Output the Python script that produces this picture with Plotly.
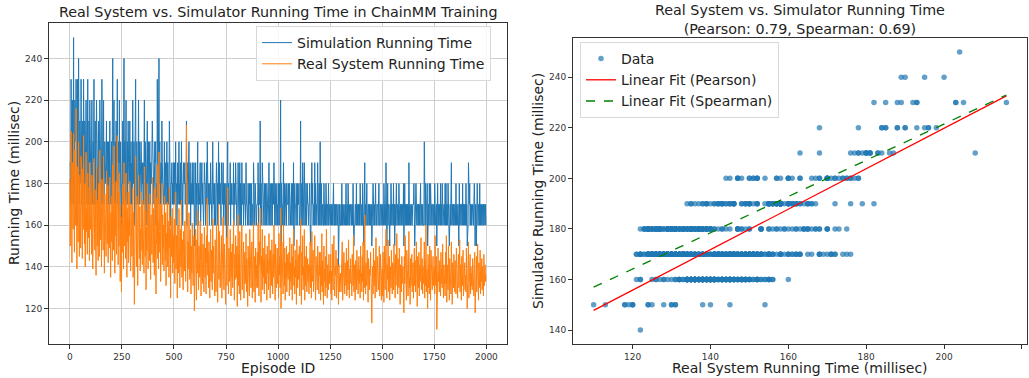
import plotly.graph_objects as go

# ---------------- data (read/estimated from the reference) ----------------
episode_step = 2
real_time = [
    182, 150, 171, 205, 163, 142, 190, 175, 158, 204, 168, 147, 196, 181, 160, 216, 172, 139, 188, 165, 152, 200, 177, 145, 184,
    170, 149, 193, 161, 176, 144, 187, 158, 203, 166, 151, 180, 140, 172, 195, 157, 168, 146, 185, 162, 154, 178, 143, 190, 165,
    158, 175, 146, 184, 161, 139, 170, 152, 192, 163, 148, 177, 155, 136, 188, 167, 150, 172, 143, 180, 159, 145, 196, 164, 153,
    171, 140, 182, 157, 165, 148, 193, 160, 137, 175, 154, 168, 145, 186, 162, 151, 179, 142, 160, 170, 149, 183, 158, 135, 166,
    152, 174, 143, 189, 160, 148, 198, 163, 137, 171, 155, 181, 146, 167, 203, 158, 141, 176, 150, 185, 162, 133, 170, 153, 128,
    164, 147, 179, 156, 139, 190, 161, 150, 172, 144, 185, 158, 135, 168, 152, 176, 142, 163, 155, 181, 147, 138, 170, 159, 145,
    160, 178, 135, 166, 151, 122, 170, 146, 193, 157, 140, 174, 149, 131, 163, 184, 155, 144, 169, 138, 158, 148, 176, 152, 141,
    172, 150, 163, 137, 188, 156, 145, 167, 129, 159, 148, 180, 153, 139, 170, 161, 143, 175, 151, 134, 165, 157, 146, 183, 154,
    142, 168, 155, 136, 178, 149, 160, 127, 173, 151, 189, 144, 162, 139, 195, 157, 147, 170, 133, 158, 152, 180, 141, 165, 149,
    160, 138, 174, 150, 143, 166, 131, 156, 147, 171, 140, 162, 153, 135, 178, 149, 158, 125, 164, 145, 151, 168, 137, 155, 142,
    150, 163, 132, 145, 176, 139, 155, 148, 125, 160, 142, 137, 168, 151, 130, 146, 158, 140, 172, 135, 153, 144, 129, 157, 147,
    138, 162, 150, 133, 145, 208, 141, 156, 128, 152, 139, 166, 146, 134, 158, 143, 127, 150, 137, 161, 144, 131, 148, 155, 119,
    146, 131, 158, 140, 124, 153, 137, 167, 145, 129, 150, 141, 135, 162, 148, 126, 143, 156, 138, 132, 151, 144, 128, 159, 140,
    135, 149, 127, 155, 142, 173, 136, 147, 130, 152, 139, 125, 144, 158, 133, 148, 141, 129, 163, 137, 150, 134, 145, 126, 153,
    144, 128, 160, 137, 152, 123, 147, 170, 134, 157, 141, 130, 148, 138, 155, 125, 146, 133, 164, 140, 129, 151, 136, 143, 122,
    139, 154, 131, 145, 178, 136, 127, 149, 142, 133, 158, 140, 126, 147, 135, 151, 130, 143, 162, 138, 124, 146, 134, 155, 141,
    135, 150, 121, 142, 165, 131, 146, 127, 157, 138, 124, 149, 136, 160, 129, 143, 133, 152, 125, 140, 147, 132, 138, 156, 128,
    144, 136, 121, 150, 133, 141, 126, 158, 137, 147, 130, 143, 152, 125, 139, 134, 161, 128, 145, 138, 123, 149, 135, 141, 130,
    147, 130, 161, 138, 126, 152, 141, 168, 134, 123, 145, 137, 158, 129, 149, 135, 143, 127, 155, 139, 132, 146, 136, 124, 150,
    137, 143, 129, 156, 134, 140, 125, 148, 138, 131, 153, 142, 127, 146, 135, 160, 133, 139, 124, 151, 144, 130, 137, 149, 132,
    141, 125, 156, 136, 145, 130, 168, 120, 139, 152, 133, 144, 127, 160, 137, 131, 149, 124, 142, 135, 150, 128, 146, 138, 134,
    139, 147, 126, 154, 133, 142, 129, 137, 151, 124, 145, 136, 158, 131, 140, 127, 148, 135, 143, 122, 153, 138, 130, 146, 134,
    138, 150, 126, 143, 163, 132, 122, 147, 136, 155, 129, 140, 134, 158, 124, 145, 131, 139, 150, 128, 137, 144, 133, 141, 127,
    146, 135, 152, 130, 140, 125, 157, 137, 133, 148, 128, 143, 138, 155, 131, 124, 145, 136, 141, 129, 150, 134, 139, 127, 147,
    136, 147, 124, 140, 131, 156, 128, 143, 135, 122, 150, 133, 139, 126, 145, 130, 158, 137, 125, 141, 134, 129, 146, 132, 138,
    133, 146, 127, 138, 124, 151, 135, 129, 142, 155, 131, 126, 140, 136, 148, 125, 134, 144, 130, 138, 122, 141, 128, 136, 132,
    137, 128, 145, 133, 152, 124, 140, 130, 147, 135, 127, 142, 138, 131, 149, 126, 136, 143, 129, 153, 134, 125, 139, 132, 144,
    130, 138, 126, 146, 135, 131, 155, 128, 141, 134, 124, 143, 137, 129, 148, 133, 140, 127, 136, 145, 132, 139, 125, 150, 135,
    137, 128, 145, 133, 152, 124, 140, 130, 165, 135, 127, 142, 131, 138, 148, 126, 123, 144, 134, 129, 139, 136, 147, 130, 141,
    113, 134, 140, 127, 149, 136, 131, 143, 125, 138, 154, 132, 128, 145, 135, 141, 129, 137, 150, 126, 133, 146, 139, 124, 136,
    139, 126, 147, 132, 123, 150, 136, 129, 143, 158, 131, 125, 141, 134, 153, 128, 137, 145, 124, 133, 140, 130, 148, 135, 127,
    142, 136, 129, 151, 134, 138, 125, 146, 131, 140, 156, 133, 127, 144, 137, 130, 149, 135, 122, 141, 136, 128, 145, 132, 139,
    140, 127, 118, 145, 132, 155, 129, 136, 124, 148, 133, 141, 126, 138, 157, 130, 135, 122, 144, 131, 139, 146, 128, 134, 142,
    125, 137, 149, 131, 143, 128, 136, 152, 134, 121, 145, 139, 130, 147, 126, 141, 133, 138, 154, 129, 135, 144, 127, 140, 132,
    137, 152, 125, 143, 131, 160, 128, 139, 134, 120, 146, 130, 141, 127, 150, 136, 124, 148, 133, 142, 129, 138, 145, 131, 135,
    140, 127, 155, 134, 131, 145, 110, 136, 124, 149, 133, 138, 128, 143, 135, 126, 147, 132, 139, 130, 151, 137, 125, 141, 134,
    138, 126, 147, 132, 155, 123, 141, 135, 129, 150, 137, 124, 144, 131, 139, 127, 152, 134, 122, 142, 136, 130, 146, 133, 128,
    143, 135, 127, 149, 132, 140, 125, 138, 146, 130, 136, 153, 128, 141, 134, 124, 145, 137, 131, 148, 126, 139, 133, 142, 129,
    136, 128, 149, 133, 120, 143, 130, 152, 125, 139, 134, 146, 127, 140, 131, 137, 129, 144, 133, 138, 126, 141, 147, 118, 135,
    132, 145, 128, 139, 151, 134, 124, 142, 136, 130, 148, 127, 138, 133, 144, 129, 140, 135, 126, 146, 131, 137, 141, 133, 136,
]
sim_time = [
    190, 190, 170, 230, 200, 170, 220, 180, 190, 250, 170, 180, 220, 210, 200, 230, 190, 160, 230, 180, 200, 240, 200, 170, 210,
    180, 190, 230, 200, 170, 180, 210, 190, 230, 170, 170, 210, 180, 200, 220, 200, 170, 190, 230, 180, 170, 210, 190, 220, 190,
    200, 170, 190, 220, 170, 180, 200, 190, 230, 170, 180, 210, 170, 190, 220, 180, 200, 170, 190, 210, 180, 190, 220, 180, 180,
    170, 180, 230, 200, 170, 190, 220, 170, 180, 200, 190, 180, 190, 210, 170, 200, 190, 170, 200, 180, 180, 210, 170, 190, 190,
    200, 170, 190, 240, 180, 190, 220, 170, 180, 200, 170, 210, 190, 180, 230, 170, 180, 200, 190, 220, 170, 180, 200, 180, 160,
    180, 180, 210, 170, 190, 240, 180, 200, 170, 190, 220, 170, 180, 200, 170, 210, 190, 180, 180, 210, 170, 190, 200, 170, 190,
    170, 220, 190, 180, 200, 160, 180, 190, 230, 170, 180, 200, 170, 180, 190, 220, 170, 200, 170, 190, 180, 200, 190, 170, 190,
    180, 190, 170, 190, 220, 170, 200, 190, 160, 180, 180, 210, 170, 190, 200, 170, 180, 200, 170, 190, 180, 180, 190, 210, 200,
    190, 180, 170, 180, 200, 190, 200, 160, 180, 170, 230, 190, 170, 190, 240, 180, 200, 170, 180, 190, 170, 210, 190, 180, 170,
    170, 180, 200, 170, 190, 190, 170, 180, 200, 170, 190, 180, 170, 180, 210, 190, 190, 160, 180, 180, 190, 170, 180, 170, 190,
    170, 190, 180, 170, 200, 180, 180, 160, 170, 190, 170, 180, 200, 170, 180, 170, 190, 170, 200, 180, 180, 160, 180, 190, 180,
    180, 190, 170, 180, 170, 210, 160, 190, 180, 170, 180, 200, 170, 180, 190, 160, 180, 170, 180, 190, 170, 180, 170, 190, 150,
    170, 170, 190, 160, 180, 170, 180, 200, 160, 180, 170, 170, 180, 190, 160, 170, 170, 190, 170, 180, 170, 160, 170, 190, 180,
    180, 160, 170, 190, 170, 200, 180, 170, 180, 170, 160, 180, 170, 190, 180, 170, 160, 170, 200, 180, 170, 180, 160, 180, 170,
    160, 170, 190, 180, 160, 180, 170, 200, 170, 190, 170, 180, 170, 160, 190, 180, 170, 170, 190, 160, 180, 170, 180, 160, 180,
    180, 150, 180, 170, 200, 160, 180, 170, 170, 170, 190, 160, 180, 170, 180, 170, 170, 170, 190, 160, 180, 170, 170, 190, 170,
    180, 160, 170, 170, 190, 180, 160, 170, 190, 160, 180, 170, 160, 190, 170, 170, 180, 160, 170, 180, 170, 170, 160, 190, 170,
    170, 160, 160, 180, 170, 160, 180, 170, 180, 160, 170, 180, 160, 170, 170, 160, 190, 170, 170, 160, 180, 170, 170, 160, 170,
    170, 170, 190, 160, 180, 170, 170, 210, 160, 180, 170, 160, 190, 180, 170, 170, 160, 180, 170, 160, 180, 170, 160, 180, 170,
    170, 160, 170, 190, 170, 160, 180, 170, 160, 180, 170, 160, 180, 170, 170, 190, 170, 160, 180, 170, 160, 170, 180, 160, 170,
    160, 180, 170, 180, 160, 170, 220, 150, 180, 170, 170, 160, 170, 190, 160, 180, 160, 170, 170, 180, 160, 180, 170, 170, 170,
    180, 160, 180, 170, 170, 160, 170, 180, 160, 180, 170, 160, 190, 150, 160, 180, 170, 170, 160, 170, 180, 160, 180, 170, 170,
    180, 160, 170, 170, 210, 160, 170, 180, 160, 190, 170, 170, 160, 190, 180, 160, 170, 180, 160, 170, 180, 170, 170, 160, 170,
    170, 180, 160, 150, 160, 170, 190, 170, 180, 160, 170, 170, 160, 190, 160, 180, 170, 170, 160, 170, 190, 170, 160, 180, 180,
    160, 200, 170, 160, 180, 160, 170, 170, 160, 160, 180, 170, 160, 170, 160, 180, 170, 160, 170, 170, 160, 180, 160, 170, 170,
    170, 160, 170, 160, 170, 170, 160, 170, 180, 160, 160, 170, 160, 170, 160, 170, 170, 160, 170, 170, 140, 160, 170, 160, 160,
    160, 170, 160, 180, 160, 170, 160, 170, 170, 160, 170, 170, 160, 180, 160, 170, 170, 160, 180, 170, 160, 170, 160, 170, 170,
    170, 160, 170, 170, 160, 180, 160, 150, 160, 160, 170, 170, 160, 180, 160, 170, 160, 170, 170, 160, 170, 160, 180, 170, 160,
    160, 170, 160, 180, 160, 170, 150, 170, 190, 160, 170, 160, 170, 180, 160, 160, 170, 170, 160, 170, 160, 170, 160, 170, 170,
    150, 170, 160, 180, 170, 160, 170, 160, 170, 180, 160, 160, 170, 170, 170, 160, 170, 180, 160, 160, 170, 170, 160, 170, 170,
    160, 170, 160, 160, 180, 170, 160, 170, 160, 190, 170, 150, 160, 180, 160, 170, 170, 160, 150, 170, 160, 180, 170, 160, 170,
    170, 160, 180, 160, 170, 150, 170, 160, 170, 180, 160, 160, 170, 170, 160, 180, 170, 160, 170, 170, 160, 170, 160, 170, 170,
    160, 180, 150, 160, 180, 160, 170, 160, 170, 160, 170, 160, 170, 160, 190, 170, 160, 170, 160, 170, 170, 160, 160, 170, 170,
    170, 180, 160, 150, 160, 170, 180, 170, 160, 170, 170, 160, 170, 160, 170, 160, 170, 180, 160, 170, 170, 160, 170, 160, 160,
    160, 200, 170, 160, 180, 160, 170, 170, 180, 150, 160, 170, 160, 180, 170, 160, 180, 170, 170, 160, 170, 170, 160, 170, 170,
    160, 180, 170, 160, 170, 170, 150, 160, 180, 160, 170, 160, 170, 170, 160, 180, 160, 170, 160, 180, 170, 160, 170, 170, 170,
    160, 180, 160, 180, 160, 170, 170, 160, 180, 170, 170, 150, 160, 170, 160, 170, 190, 160, 170, 170, 160, 170, 160, 160, 170,
    170, 160, 180, 160, 170, 160, 170, 170, 160, 150, 180, 160, 170, 170, 160, 170, 170, 160, 180, 160, 170, 160, 170, 160, 170,
    160, 180, 160, 170, 150, 160, 160, 190, 170, 170, 180, 160, 170, 160, 170, 160, 170, 170, 170, 160, 170, 180, 170, 150, 170,
    170, 150, 170, 180, 170, 160, 170, 170, 160, 180, 160, 170, 160, 170, 160, 170, 170, 160, 170, 160, 170, 170, 160, 170, 160,
]
episodes = [i * episode_step for i in range(len(real_time))]

# linear fit coefficients (slope, intercept) as shown in the reference
pearson_fit = [0.80, 59.8]
spearman_fit = [0.717, 78.1]
pearson_r = 0.79
spearman_r = 0.69

x_ticks_left = [0, 250, 500, 750, 1000, 1250, 1500, 1750, 2000]
y_ticks_left = [120, 140, 160, 180, 200, 220, 240]
x_ticks_right = [120, 140, 160, 180, 200, 220]
y_ticks_right = [140, 160, 180, 200, 220, 240]

# ---------------- figure ----------------
BLUE = "#1f77b4"
ORANGE = "#ff7f0e"
FONT = "DejaVu Sans"
W, H = 1029, 378

fig = go.Figure()

fig.add_trace(go.Scatter(x=episodes, y=sim_time, mode="lines", name="Simulation Running Time",
                         line=dict(color=BLUE, width=1), xaxis="x", yaxis="y", legend="legend"))
fig.add_trace(go.Scatter(x=episodes, y=real_time, mode="lines", name="Real System Running Time",
                         line=dict(color=ORANGE, width=1), xaxis="x", yaxis="y", legend="legend"))

fig.add_trace(go.Scatter(x=real_time, y=sim_time, mode="markers", name="Data",
                         marker=dict(color=BLUE, size=5.5, opacity=0.7, line=dict(width=0)),
                         xaxis="x2", yaxis="y2", legend="legend2"))
xmin, xmax = min(real_time), max(real_time)
fit_x = [xmin, xmax]
fig.add_trace(go.Scatter(x=fit_x, y=[pearson_fit[0] * v + pearson_fit[1] for v in fit_x], mode="lines",
                         name="Linear Fit (Pearson)", line=dict(color="red", width=1.3),
                         xaxis="x2", yaxis="y2", legend="legend2"))
fig.add_trace(go.Scatter(x=fit_x, y=[spearman_fit[0] * v + spearman_fit[1] for v in fit_x], mode="lines",
                         name="Linear Fit (Spearman)", line=dict(color="green", width=1.3, dash="dash"),
                         xaxis="x2", yaxis="y2", legend="legend2"))

axis_common = dict(showline=True, mirror=True, linecolor="#333333", linewidth=1, ticks="outside",
                   ticklen=4, tickcolor="#333333", tickfont=dict(family=FONT, size=9, color="#333333"),
                   zeroline=False)

L0, L1 = 49 / W, 507 / W
R0, R1 = 573 / W, 1027 / W
B = 1 - 344 / H

fig.update_layout(
    width=W, height=H, margin=dict(l=0, r=0, t=0, b=0),
    paper_bgcolor="white", plot_bgcolor="white",
    font=dict(family=FONT, color="#222222"),
    xaxis=dict(domain=[L0, L1], range=[-100, 2099], tickvals=x_ticks_left, showgrid=True,
               gridcolor="#cfcfcf", gridwidth=1, anchor="y", **axis_common),
    yaxis=dict(domain=[B, 1 - 23 / H], range=[103, 257], tickvals=y_ticks_left, showgrid=True,
               gridcolor="#cfcfcf", gridwidth=1, anchor="x", **axis_common),
    xaxis2=dict(domain=[R0, R1], range=[104.7, 221.3], tickvals=x_ticks_right, showgrid=False,
                anchor="y2", **axis_common),
    yaxis2=dict(domain=[B, 1 - 38 / H], range=[134.5, 255.5], tickvals=y_ticks_right, showgrid=False,
                anchor="x2", **axis_common),
    legend=dict(x=256 / W, y=1 - 26 / H, xanchor="left", yanchor="top", bgcolor="rgba(255,255,255,0.85)",
                bordercolor="#d9d9d9", borderwidth=1, font=dict(family=FONT, size=14, color="#222222"),
                tracegroupgap=0, itemwidth=30),
    legend2=dict(x=580 / W, y=1 - 42 / H, xanchor="left", yanchor="top", bgcolor="rgba(255,255,255,0.85)",
                 bordercolor="#d9d9d9", borderwidth=1, font=dict(family=FONT, size=14, color="#222222"),
                 tracegroupgap=0, itemwidth=30),
)

ann = [
    dict(text="Real System vs. Simulator Running Time in ChainMM Training", x=(L0 + L1) / 2, y=1 - 12 / H,
         font=dict(size=14.3)),
    dict(text="Real System vs. Simulator Running Time<br>(Pearson: %.2f, Spearman: %.2f)" % (pearson_r, spearman_r),
         x=(R0 + R1) / 2, y=1 - 19.5 / H, font=dict(size=14.3)),
    dict(text="Episode ID", x=(L0 + L1) / 2, y=1 - 368 / H, font=dict(size=14)),
    dict(text="Running Time (millisec)", x=13.5 / W, y=(B + 1 - 23 / H) / 2, textangle=-90, font=dict(size=14)),
    dict(text="Real System Running Time (millisec)", x=(R0 + R1) / 2, y=1 - 368 / H, font=dict(size=14)),
    dict(text="Simulator Running Time (millisec)", x=538 / W, y=(B + 1 - 38 / H) / 2, textangle=-90,
         font=dict(size=14)),
]
for a in ann:
    a.update(xref="paper", yref="paper", showarrow=False, xanchor="center", yanchor="middle")
    a["font"].update(family=FONT, color="#222222")
    fig.add_annotation(**a)

fig.write_html("out.html")
